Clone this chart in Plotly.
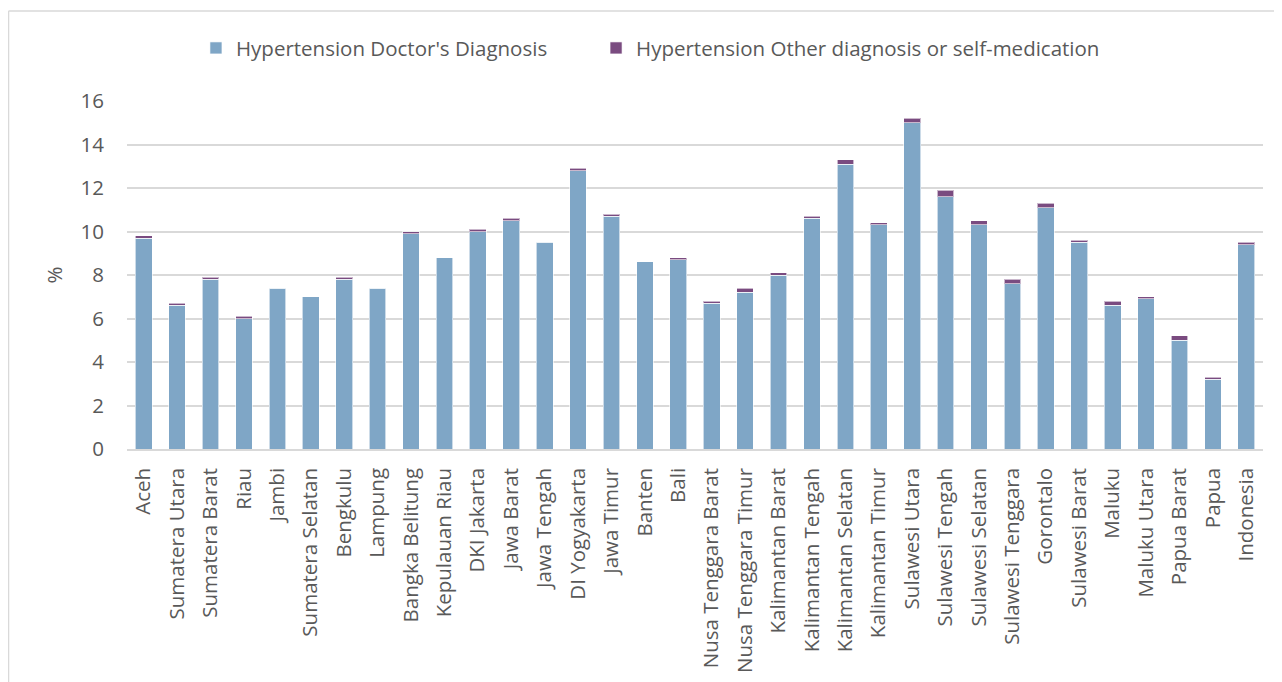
import plotly.graph_objects as go

provinces = ["Aceh", "Sumatera Utara", "Sumatera Barat", "Riau", "Jambi", "Sumatera Selatan",
             "Bengkulu", "Lampung", "Bangka Belitung", "Kepulauan Riau", "DKI Jakarta",
             "Jawa Barat", "Jawa Tengah", "DI Yogyakarta", "Jawa Timur", "Banten", "Bali",
             "Nusa Tenggara Barat", "Nusa Tenggara Timur", "Kalimantan Barat",
             "Kalimantan Tengah", "Kalimantan Selatan", "Kalimantan Timur", "Sulawesi Utara",
             "Sulawesi Tengah", "Sulawesi Selatan", "Sulawesi Tenggara", "Gorontalo",
             "Sulawesi Barat", "Maluku", "Maluku Utara", "Papua Barat", "Papua", "Indonesia"]

doctor = [9.7, 6.6, 7.8, 6.0, 7.4, 7.0, 7.8, 7.4, 9.9, 8.8, 10.0, 10.5, 9.5, 12.8, 10.7,
          8.6, 8.7, 6.7, 7.2, 8.0, 10.6, 13.1, 10.3, 15.0, 11.6, 10.3, 7.6, 11.1, 9.5,
          6.6, 6.9, 5.0, 3.2, 9.4]

other = [0.1, 0.1, 0.1, 0.1, 0.0, 0.0, 0.1, 0.0, 0.1, 0.0, 0.1, 0.1, 0.0, 0.1, 0.1,
         0.0, 0.1, 0.1, 0.2, 0.1, 0.1, 0.2, 0.1, 0.2, 0.3, 0.2, 0.2, 0.2, 0.1,
         0.2, 0.1, 0.2, 0.1, 0.1]

y_ticks = [0, 2, 4, 6, 8, 10, 12, 14, 16]

text_color = "#595959"
font_family = "Open Sans"
fs = 20.5

fig = go.Figure()
fig.add_trace(go.Bar(
    x=provinces, y=doctor, name="Hypertension Doctor's Diagnosis",
    marker=dict(color="#7FA6C6", line=dict(color="rgba(255,255,255,0.6)", width=1)),
    legend="legend", showlegend=True,
))
fig.add_trace(go.Bar(
    x=provinces, y=other, name="Hypertension Other diagnosis or self-medication",
    marker=dict(color="#7A4B80", line=dict(color="rgba(255,255,255,0.6)", width=1)),
    legend="legend2", showlegend=True,
))

legend_common = dict(
    orientation="h", xanchor="left", y=1.152, yanchor="middle",
    font=dict(size=fs, color=text_color), itemwidth=30,
    bgcolor="rgba(0,0,0,0)",
)

fig.update_layout(
    showlegend=True,
    barmode="stack",
    bargap=0.5,
    width=1274, height=674,
    margin=dict(l=119, r=19, t=93, b=233, autoexpand=False),
    paper_bgcolor="white",
    plot_bgcolor="white",
    font=dict(family=font_family, size=fs, color=text_color),
    legend=dict(x=0.0607, visible=True, **legend_common),
    legend2=dict(x=0.4129, visible=True, **legend_common),
    shapes=[
        dict(type="line", xref="paper", yref="paper", x0=-0.1043, x1=-0.1043,
             y0=-0.7, y1=1.2586, line=dict(color="#D9D9D9", width=1.5), layer="below"),
        dict(type="line", xref="paper", yref="paper", x0=-0.1043, x1=1.1,
             y0=1.2586, y1=1.2586, line=dict(color="#D9D9D9", width=1.5), layer="below"),
    ],
)

fig.update_yaxes(
    range=[0, 16], tickvals=y_ticks, ticktext=[str(v) for v in y_ticks],
    showgrid=True, gridcolor="#D9D9D9", gridwidth=1.5,
    zeroline=False, showline=False,
    tickfont=dict(size=fs, color=text_color),
    ticklabelstandoff=22,
    title=dict(text="%", font=dict(size=fs, color=text_color), standoff=12),
    automargin=False,
)
fig.update_xaxes(
    tickangle=-90,
    tickfont=dict(size=fs, color=text_color),
    showline=True, linecolor="#D9D9D9", linewidth=1.5,
    ticklabelstandoff=9,
    automargin=False,
)

fig.write_html("out.html")
